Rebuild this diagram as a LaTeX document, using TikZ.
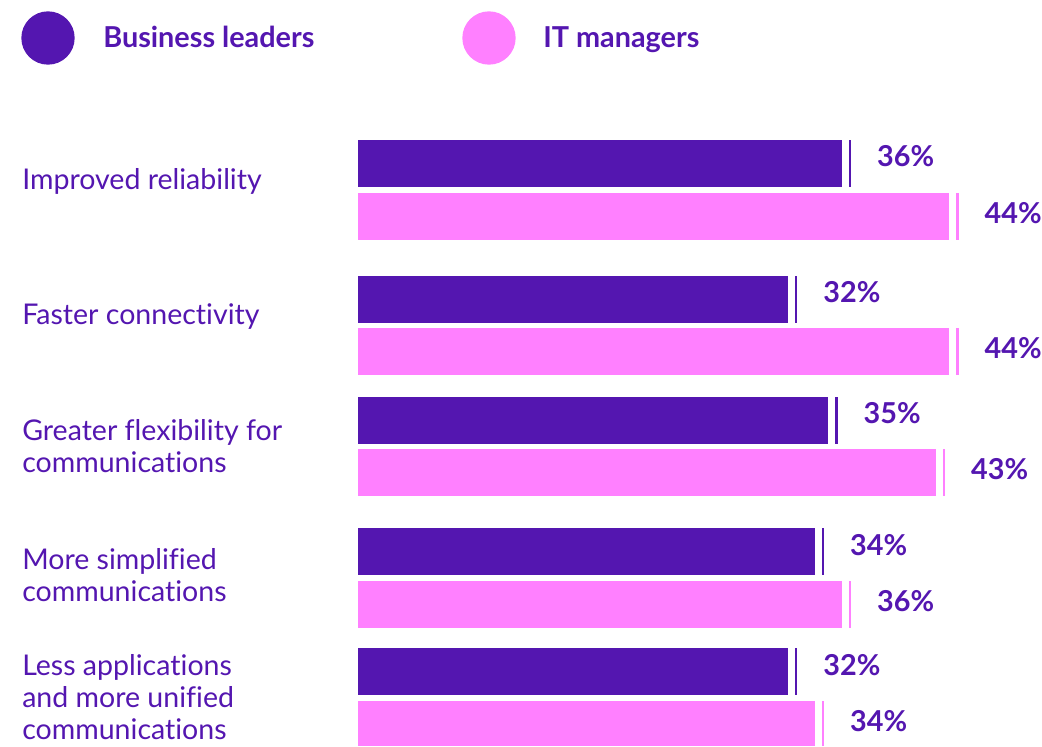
\documentclass[tikz,border=0pt]{standalone}
\usepackage{fontspec}
\setmainfont{Lato}[Ligatures=CommonOff]
\definecolor{blpurple}{RGB}{84,22,176}
\definecolor{itpink}{RGB}{255,128,255}
\tikzset{
  catlabel/.style={anchor=west,align=left,inner sep=0pt,text=blpurple,font=\fontsize{21.4}{24}\selectfont},
  pctlabel/.style={anchor=base west,inner sep=0pt,text=blpurple,font=\bfseries\fontsize{21.6}{24}\selectfont},
  keylabel/.style={anchor=base west,inner sep=0pt,text=blpurple,font=\bfseries\fontsize{21.6}{24}\selectfont},
  blbar/.style={fill=blpurple},
  itbar/.style={fill=itpink},
  bltick/.style={draw=blpurple,line width=2pt},
  ittick/.style={draw=itpink,line width=2pt},
}
\begin{document}
\begin{tikzpicture}[x=0.75pt,y=-0.75pt]
\useasboundingbox (0,0) rectangle (1042,746);

% legend
\node[circle,fill=blpurple,minimum size=40pt,inner sep=0pt] (kbl) at (48,38) {};
\node[keylabel] (kbltext) at (103,47) {Business leaders};
\node[circle,fill=itpink,minimum size=40pt,inner sep=0pt] (kit) at (489,38) {};
\node[keylabel] (kittext) at (543,47) {IT managers};

% categories
\node[catlabel] (c1) at (22,181) {Improved reliability};
\node[catlabel] (c2) at (22,317) {Faster connectivity};
\node[catlabel] (c3) at (22,446) {Greater flexibility for\\communications};
\node[catlabel] (c4) at (22,575) {More simplified\\communications};
\node[catlabel] (c5) at (22,697) {Less applications\\and more unified\\communications};

% improved reliability
\fill[blbar] (358,140) rectangle ({358+13.44*36},187);
\draw[bltick] ({366+13.44*36},140) -- ({366+13.44*36},187);
\node[pctlabel] (v1a) at ({393+13.44*36},166) {36\%};
\fill[itbar] (358,193) rectangle ({358+13.44*44},240);
\draw[ittick] ({366+13.44*44},193) -- ({366+13.44*44},240);
\node[pctlabel] (v1b) at ({393+13.44*44},223) {44\%};

% faster connectivity
\fill[blbar] (358,276) rectangle ({358+13.44*32},323);
\draw[bltick] ({366+13.44*32},276) -- ({366+13.44*32},323);
\node[pctlabel] (v2a) at ({393+13.44*32},302) {32\%};
\fill[itbar] (358,328) rectangle ({358+13.44*44},375);
\draw[ittick] ({366+13.44*44},328) -- ({366+13.44*44},375);
\node[pctlabel] (v2b) at ({393+13.44*44},358) {44\%};

% greater flexibility
\fill[blbar] (358,397) rectangle ({358+13.44*35},444);
\draw[bltick] ({366+13.44*35},397) -- ({366+13.44*35},444);
\node[pctlabel] (v3a) at ({393+13.44*35},423) {35\%};
\fill[itbar] (358,449) rectangle ({358+13.44*43},496);
\draw[ittick] ({366+13.44*43},449) -- ({366+13.44*43},496);
\node[pctlabel] (v3b) at ({393+13.44*43},479) {43\%};

% more simplified
\fill[blbar] (358,528) rectangle ({358+13.44*34},575);
\draw[bltick] ({366+13.44*34},528) -- ({366+13.44*34},575);
\node[pctlabel] (v4a) at ({393+13.44*34},555) {34\%};
\fill[itbar] (358,581) rectangle ({358+13.44*36},628);
\draw[ittick] ({366+13.44*36},581) -- ({366+13.44*36},628);
\node[pctlabel] (v4b) at ({393+13.44*36},611) {36\%};

% less applications
\fill[blbar] (358,648) rectangle ({358+13.44*32},695);
\draw[bltick] ({366+13.44*32},648) -- ({366+13.44*32},695);
\node[pctlabel] (v5a) at ({393+13.44*32},675) {32\%};
\fill[itbar] (358,701) rectangle ({358+13.44*34},746);
\draw[ittick] ({366+13.44*34},701) -- ({366+13.44*34},746);
\node[pctlabel] (v5b) at ({393+13.44*34},731) {34\%};
\end{tikzpicture}
\end{document}
